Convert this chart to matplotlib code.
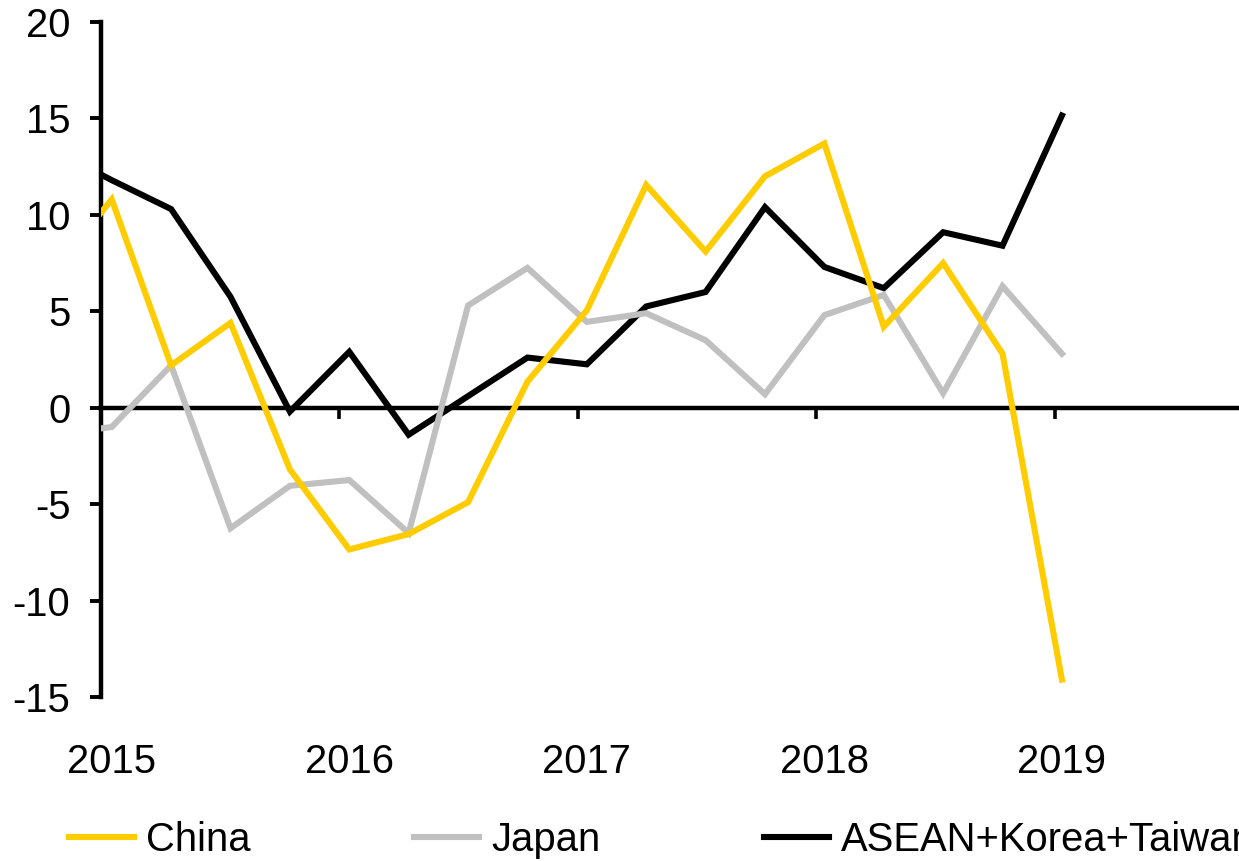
import matplotlib
matplotlib.use("Agg")
import matplotlib.pyplot as plt
import numpy as np

plt.rcParams['font.family'] = ['Liberation Sans', 'DejaVu Sans']
plt.rcParams['axes.unicode_minus'] = False

# quarterly data, 2014Q4 .. 2019Q1 (first point lies left of the axis and gets clipped)
quarters = ['2014Q4',
            '2015Q1', '2015Q2', '2015Q3', '2015Q4',
            '2016Q1', '2016Q2', '2016Q3', '2016Q4',
            '2017Q1', '2017Q2', '2017Q3', '2017Q4',
            '2018Q1', '2018Q2', '2018Q3', '2018Q4',
            '2019Q1']
china = [7.0,
         10.8, 2.2, 4.4, -3.2,
         -7.35, -6.55, -4.9, 1.35,
         5.05, 11.55, 8.1, 12.0,
         13.7, 4.2, 7.5, 2.8,
         -14.1]
japan = [-1.4,
         -1.0, 2.2, -6.25, -4.05,
         -3.75, -6.5, 5.3, 7.25,
         4.45, 4.9, 3.5, 0.7,
         4.8, 5.85, 0.75, 6.3,
         2.8]
asean = [13.4,
         11.8, 10.3, 5.75, -0.2,
         2.9, -1.4, 0.6, 2.6,
         2.25, 5.25, 6.0, 10.4,
         7.3, 6.2, 9.1, 8.4,
         15.15]
years = [2015, 2016, 2017, 2018, 2019]
yticks = [-15, -10, -5, 0, 5, 10, 15, 20]

# x position of each quarter (points sit a little after the year tick)
qstep = 0.249
x = np.array([2015.045 + ((int(q[:4]) - 2015) * 4 + int(q[-1]) - 1) * qstep
              for q in quarters])

fig = plt.figure(figsize=(12.39, 8.61), dpi=100)
ax = fig.add_axes([101 / 1239, 1 - 697 / 861, 1 - 101 / 1239, (697 - 22) / 861])

fs = 28.8
ax.plot(x, asean, color='black', lw=4.4, label='ASEAN+Korea+Taiwan', zorder=3,
        solid_joinstyle='miter')
ax.plot(x, japan, color='#c0c0c0', lw=4.4, label='Japan', zorder=4,
        solid_joinstyle='miter')
ax.plot(x, china, color='#ffcc00', lw=4.4, label='China', zorder=5,
        solid_joinstyle='miter')

ax.set_xlim(2015, 2015 + (1239 - 101) / 238.5)
ax.set_ylim(-15, 20)

for s in ['top', 'right']:
    ax.spines[s].set_visible(False)
ax.spines['left'].set_linewidth(3.2)
ax.spines['bottom'].set_position(('data', 0))
ax.spines['bottom'].set_linewidth(3.2)
ax.spines['bottom'].set_zorder(2)

ax.set_yticks(yticks)
ax.set_yticklabels([str(v) for v in yticks])
ax.tick_params(axis='y', direction='out', length=8, width=2.8, labelsize=fs, pad=14)
ax.set_xticks(years)
ax.tick_params(axis='x', direction='out', length=8, width=2.6, labelbottom=False)

# year labels along the bottom of the plot, under the first quarter of each year
sec = ax.secondary_xaxis('bottom')
sec.spines['bottom'].set_visible(False)
sec.set_xticks([2015.045 + (yr - 2015) * 4 * qstep for yr in years])
sec.set_xticklabels([str(yr) for yr in years])
sec.tick_params(axis='x', length=0, labelsize=fs, pad=33)

h, l = ax.get_legend_handles_labels()
order = [2, 1, 0]
fig.legend([h[i] for i in order], [l[i] for i in order], ncol=3,
           loc='center left', bbox_to_anchor=(69 / 1239, 1 - 840 / 861),
           frameon=False, fontsize=fs, handlelength=1.62, handletextpad=0.3,
           columnspacing=4.1, borderpad=0, borderaxespad=0)

fig.savefig('out.png', dpi=100)
